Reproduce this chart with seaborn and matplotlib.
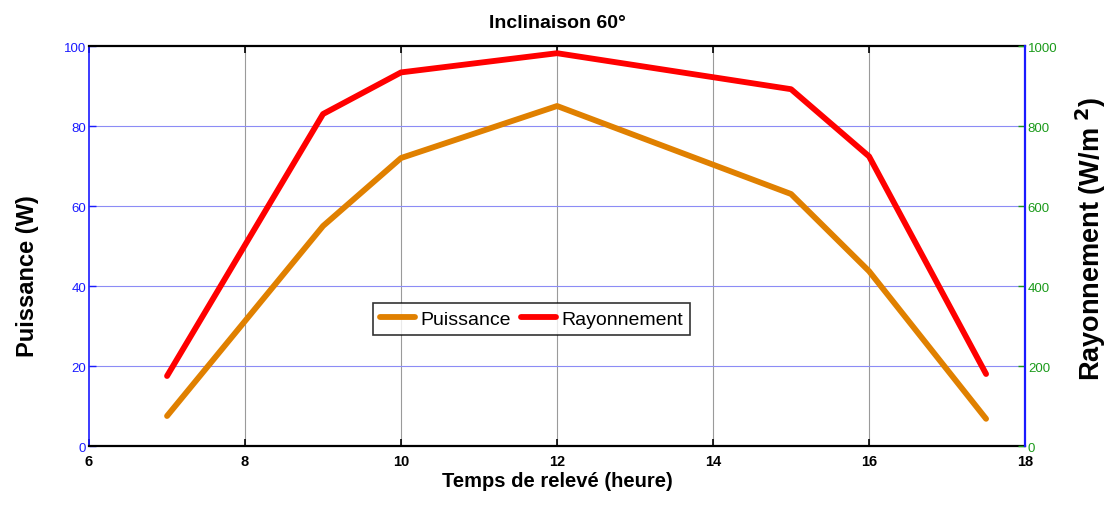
import matplotlib
matplotlib.use("Agg")
import matplotlib.pyplot as plt
import seaborn as sns
import pandas as pd

# Measurement times (hours) and readings
heures = [7, 9, 10, 12, 15, 16, 17.5]
puissance = [7.5, 55, 72, 85, 63, 43.7, 6.8]          # W
rayonnement = [175, 830, 934, 982, 892, 724, 180]      # W/m²

x_ticks = [6, 8, 10, 12, 14, 16, 18]
left_ticks = [0, 20, 40, 60, 80, 100]
right_ticks = [0, 200, 400, 600, 800, 1000]

sns.set_theme(style="white")
plt.rcParams["font.family"] = ["Liberation Sans", "DejaVu Sans"]
plt.rcParams["text.color"] = "black"
plt.rcParams["axes.labelcolor"] = "black"

df = pd.DataFrame({"heure": heures, "Puissance": puissance, "Rayonnement": rayonnement})

fig = plt.figure(figsize=(11.13, 5.06), dpi=100)
ax = fig.add_axes([0.080, 0.1166, 0.841, 0.7905])
ax2 = ax.twinx()

orange = "#E08000"
red = "#FF0000"

sns.lineplot(data=df, x="heure", y="Puissance", ax=ax, color=orange, lw=4.2,
             label="Puissance", legend=False)
sns.lineplot(data=df, x="heure", y="Rayonnement", ax=ax2, color=red, lw=4.2,
             label="Rayonnement", legend=False)

ax.set_xlim(6, 18)
ax.set_ylim(0, 100)
ax2.set_ylim(0, 1000)
ax.set_xticks(x_ticks)
ax.set_yticks(left_ticks)
ax2.set_yticks(right_ticks)

# Grid: vertical grey, horizontal blue
ax.set_axisbelow(True)
for xv in x_ticks[1:-1]:
    ax.axvline(xv, color="#9a9a9a", lw=0.8, zorder=0)
for yv in left_ticks[1:-1]:
    ax.axhline(yv, color="#8c8cf5", lw=0.8, zorder=0)

# Spines
for s in ["top", "bottom"]:
    ax.spines[s].set_color("black")
    ax.spines[s].set_linewidth(1.6)
ax.spines["left"].set_color("#1a1aff")
ax.spines["left"].set_linewidth(1.2)
ax2.spines["right"].set_color("#1a1aff")
ax2.spines["right"].set_linewidth(1.6)
ax2.spines["left"].set_visible(False)
ax2.spines["top"].set_visible(False)
ax2.spines["bottom"].set_visible(False)

ax.tick_params(axis="x", direction="in", length=5, width=1.2, colors="black",
               labelsize=10.5, top=True, bottom=True, pad=6)
for lab in ax.get_xticklabels():
    lab.set_fontweight("bold")
ax.tick_params(axis="y", direction="in", length=5, width=1, color="#1a1aff",
               labelcolor="#1a1aff", labelsize=9.5, left=True, pad=2)
ax2.tick_params(axis="y", direction="in", length=5, width=1, color="#1a9a1a",
                labelcolor="#1a9a1a", labelsize=9.5, right=True, pad=2)

ax.set_xlabel("Temps de relevé (heure)", fontsize=14.5, fontweight="bold", labelpad=2)
ax.set_ylabel("Puissance (W)", fontsize=17, fontweight="bold")
ax.yaxis.set_label_coords(-0.053, 0.4275)
ax2.set_ylabel("Rayonnement (W/m $^{\\mathbf{2}}$)", fontsize=19.5, fontweight="bold")
ax2.yaxis.set_label_coords(1.052, 0.52)
ax.set_title("Inclinaison 60°", fontsize=14, fontweight="bold", pad=14)

h1, l1 = ax.get_legend_handles_labels()
h2, l2 = ax2.get_legend_handles_labels()
leg = ax2.legend(h1 + h2, l1 + l2, loc="center", bbox_to_anchor=(0.473, 0.3175),
                 ncol=2, fontsize=14, frameon=True, fancybox=False,
                 handlelength=1.8, handletextpad=0.3, columnspacing=0.5,
                 borderpad=0.35, borderaxespad=0)
leg.get_frame().set_edgecolor("black")
leg.get_frame().set_linewidth(1.2)

fig.savefig("out.png", dpi=100)
